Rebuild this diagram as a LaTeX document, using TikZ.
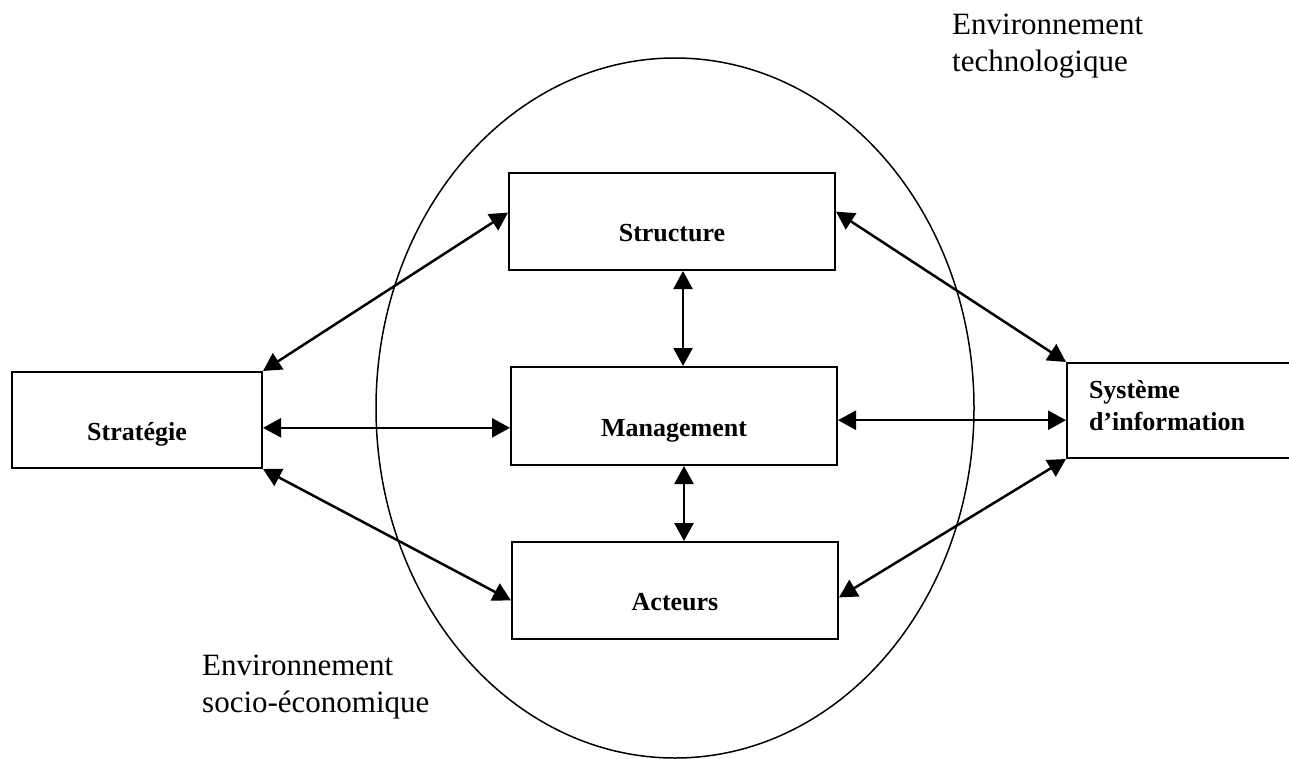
\documentclass[tikz,border=0pt]{standalone}
\usepackage{fontspec}
\setmainfont{Liberation Serif}
\usetikzlibrary{arrows.meta,calc}

\begin{document}
\begin{tikzpicture}[x=1pt,y=-1pt,
  box/.style={draw, line width=2pt, rectangle, inner sep=0pt,
    text height=40pt, text depth=0pt,
    font=\fontsize{26}{32}\selectfont\bfseries},
  link/.style={line width=2.5pt,
    {Triangle[length=18pt,width=19pt]}-{Triangle[length=18pt,width=19pt]}},
  envlabel/.style={align=left, inner sep=0pt, anchor=north west,
    font=\fontsize{31}{37}\selectfont}]
\useasboundingbox (0,0) rectangle (1289,759);
\clip (0,0) rectangle (1289,759);
\fill[white] (0,0) rectangle (1289,759);

% the organisation, drawn as an ellipse
\draw[line width=1.5pt] (675,408) ellipse [x radius=299, y radius=350];

% boxes
\node[box, minimum width=250, minimum height=96] (strat) at (137,420) {Stratégie};
\node[box, minimum width=326, minimum height=97] (struct) at (672,221.5) {Structure};
\node[box, minimum width=326, minimum height=98] (mgmt) at (674,416) {Management};
\node[box, minimum width=326, minimum height=97] (act) at (675,590.5) {Acteurs};
\node[box, anchor=west, minimum height=95, text width=212, inner xsep=22,
      align=left, text height=20pt, text depth=45pt] (sys) at (1066,410.5)
      {Système\\d’information};

% environment labels
\node[envlabel] (envtech) at (952,14) {Environnement\\technologique};
\node[envlabel] (envsoc) at (202,655) {Environnement\\socio-économique};

% connectors
\coordinate (sl) at ($(strat.north east)!0.58!(strat.south east)$);
\coordinate (sr) at ($(sys.north west)!0.6!(sys.south west)$);
\coordinate (v1) at ([xshift=11]struct.south);
\coordinate (v2) at ([xshift=10]mgmt.south);

\draw[link] (strat.north east) -- ($(struct.north west)!0.41!(struct.south west)$);
\draw[link] (sl) -- (sl -| mgmt.west);
\draw[link] (strat.south east) -- ($(act.north west)!0.6!(act.south west)$);
\draw[link] ($(struct.north east)!0.4!(struct.south east)$) -- (sys.north west);
\draw[link] (mgmt.east |- sr) -- (sr);
\draw[link] (sys.south west) -- ($(act.north east)!0.57!(act.south east)$);
\draw[link] (v1) -- (v1 |- mgmt.north);
\draw[link] (v2) -- (v2 |- act.north);
\end{tikzpicture}
\end{document}
